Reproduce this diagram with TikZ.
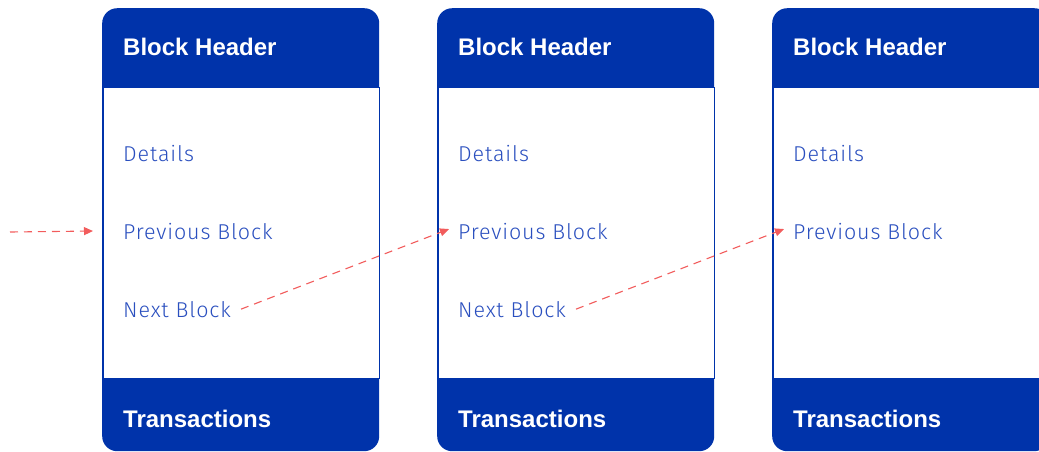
\documentclass[tikz,border=0pt]{standalone}
\usepackage{fontspec}
\setmainfont{Liberation Sans}
\newfontfamily\lightfont{Fira Sans Light}[LetterSpace=4]
\usetikzlibrary{arrows.meta}
\definecolor{hdrblue}{HTML}{0033AA}
\definecolor{txtblue}{HTML}{2A4FBF}
\definecolor{linkred}{HTML}{F25C5C}
\tikzset{
  blockbg/.style={fill=hdrblue, rounded corners=15pt, minimum width=277pt, minimum height=443pt, inner sep=0pt, anchor=north west},
  bodybox/.style={fill=white, draw=hdrblue, line width=1.3pt, minimum width=276pt, minimum height=291pt, inner sep=0pt, anchor=north west},
  hdrtext/.style={text=white, font=\fontsize{24}{28}\selectfont\bfseries, anchor=base west, inner sep=0pt},
  bodytext/.style={text=txtblue, font=\lightfont\fontsize{21.5}{25}\selectfont, anchor=base west, inner sep=0pt},
  link/.style={draw=linkred, line width=1.1pt, dash pattern=on 8pt off 6pt, -{Triangle[length=9pt,width=8pt]}}
}
\begin{document}
\begin{tikzpicture}[x=1pt,y=-1pt]
\useasboundingbox (0,0) rectangle (1039,451);
\clip (0,0) rectangle (1039,451);
\foreach \i/\x in {1/102,2/437,3/772}{
  \node[blockbg] (blk\i) at (\x,8) {};
  \node[bodybox] (body\i) at (\x+0.6,87) {};
  \node[hdrtext] (hdr\i) at (\x+21,55) {Block Header};
  \node[hdrtext] (tx\i) at (\x+21,427) {Transactions};
  \node[bodytext] (det\i) at (\x+21,161) {Details};
  \node[bodytext] (prev\i) at (\x+21,239) {Previous Block};
}
\node[bodytext] (next1) at (123,317) {Next Block};
\node[bodytext] (next2) at (458,317) {Next Block};
\coordinate (start) at (10,232);
\draw[link] (start) -- ([xshift=-30pt]prev1.west);
\draw[link] ([xshift=10pt]next1.east) -- ([xshift=-9pt,yshift=2pt]prev2.west);
\draw[link] ([xshift=10pt]next2.east) -- ([xshift=-9pt,yshift=2pt]prev3.west);
\end{tikzpicture}
\end{document}
